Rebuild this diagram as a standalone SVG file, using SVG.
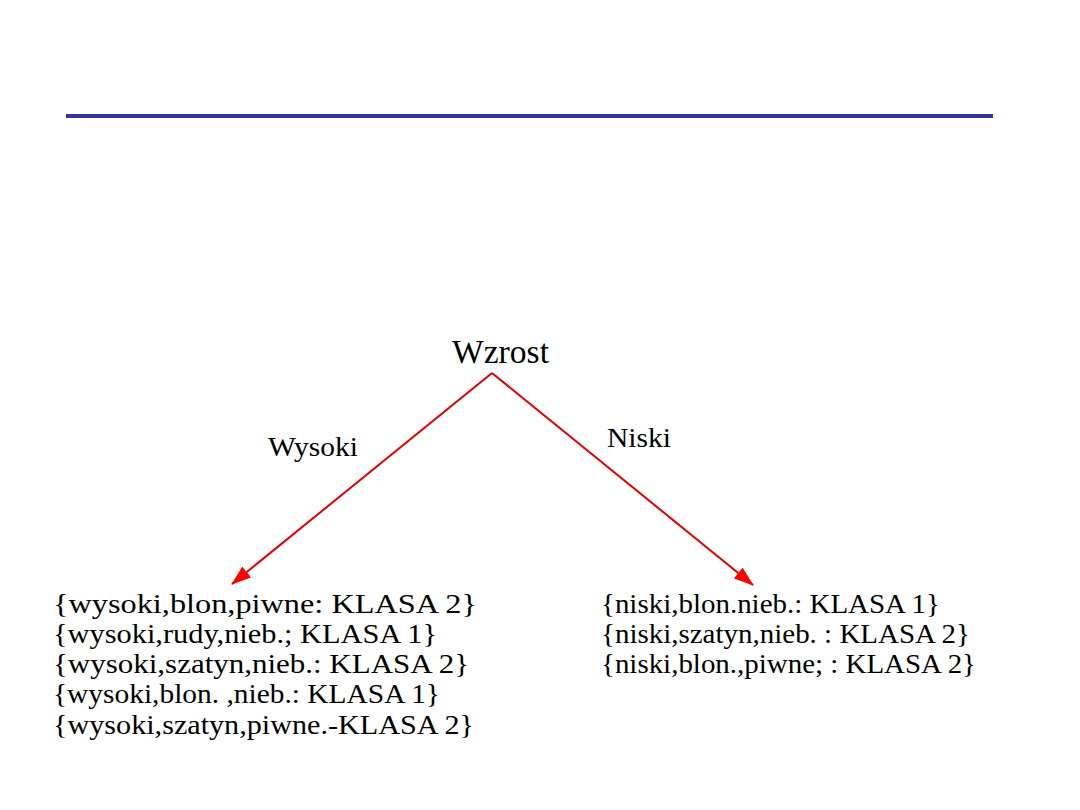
<svg xmlns="http://www.w3.org/2000/svg" width="1080" height="810" viewBox="0 0 1080 810">
<style>
.t{font-size:28px}
.lab{font-size:27px}
.conn{stroke:#e00000;stroke-width:2;fill:none}
</style>
<defs>
<marker id="ah" viewBox="0 0 20 14" refX="19" refY="7" markerWidth="20" markerHeight="14" markerUnits="userSpaceOnUse" orient="auto">
<path d="M0,0 L20,7 L0,14 z" fill="#ff0000"/>
</marker>
</defs>
<rect width="1080" height="810" fill="#fff"/>
<rect x="66" y="114" width="927" height="4" fill="#333399"/>
<g font-family="'Liberation Serif', 'Times New Roman', serif" fill="#000">
<g id="connectors">
<line class="conn" x1="492" y1="373" x2="232" y2="584" marker-end="url(#ah)"/>
<line class="conn" x1="492" y1="373" x2="753" y2="585" marker-end="url(#ah)"/>
<text class="lab" x="268" y="456" textLength="90" lengthAdjust="spacingAndGlyphs">Wysoki</text>
<text class="lab" x="607" y="447" textLength="64" lengthAdjust="spacingAndGlyphs">Niski</text>
</g>
<g id="root"><text x="452" y="363" font-size="33" textLength="97" lengthAdjust="spacingAndGlyphs">Wzrost</text></g>
<g id="left">
<text class="t" x="53" y="613" textLength="424" lengthAdjust="spacingAndGlyphs">{wysoki,blon,piwne: KLASA 2}</text>
<text class="t" x="53" y="643" textLength="384" lengthAdjust="spacingAndGlyphs">{wysoki,rudy,nieb.; KLASA 1}</text>
<text class="t" x="53" y="673" textLength="416" lengthAdjust="spacingAndGlyphs">{wysoki,szatyn,nieb.: KLASA 2}</text>
<text class="t" x="53" y="703" textLength="387" lengthAdjust="spacingAndGlyphs">{wysoki,blon. ,nieb.: KLASA 1}</text>
<text class="t" x="53" y="734" textLength="421" lengthAdjust="spacingAndGlyphs">{wysoki,szatyn,piwne.-KLASA 2}</text>
</g>
<g id="right">
<text class="t" x="601" y="613" textLength="339" lengthAdjust="spacingAndGlyphs">{niski,blon.nieb.: KLASA 1}</text>
<text class="t" x="601" y="643" textLength="369" lengthAdjust="spacingAndGlyphs">{niski,szatyn,nieb. : KLASA 2}</text>
<text class="t" x="601" y="673" textLength="375" lengthAdjust="spacingAndGlyphs">{niski,blon.,piwne; : KLASA 2}</text>
</g>
</g>
</svg>
